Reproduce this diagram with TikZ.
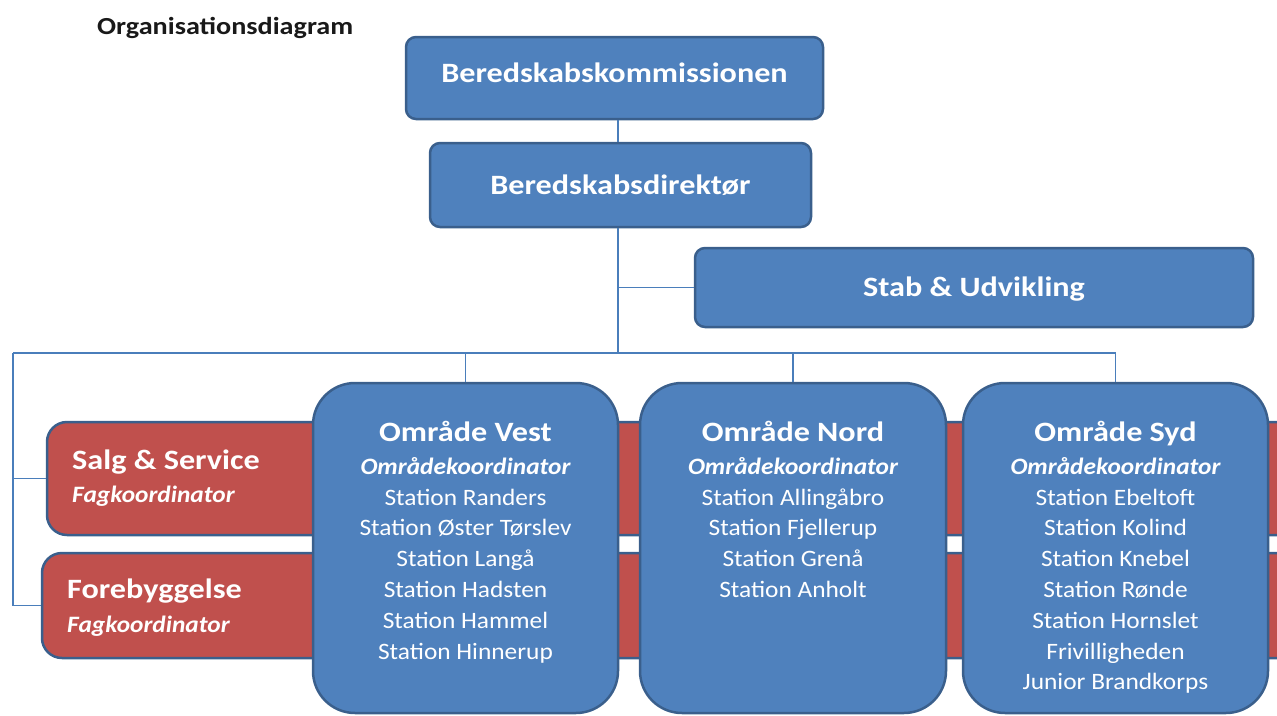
\documentclass[tikz,border=0pt]{standalone}
\usepackage{fontspec}
\setmainfont{Carlito}[FakeStretch=1.08,
  BoldFeatures={FakeStretch=1.15},
  BoldItalicFeatures={FakeStretch=1.08}]
\usetikzlibrary{positioning}
\definecolor{boxblue}{HTML}{4F81BD}
\definecolor{boxred}{HTML}{C0504D}
\definecolor{edgeblue}{HTML}{3A5F8C}
\definecolor{linkblue}{HTML}{4A7EBB}

\tikzset{
  unit/.style={draw=edgeblue, line width=2.5pt, fill=boxblue, rounded corners=10pt,
    text=white, text height=18pt, text depth=0pt, font=\bfseries\fontsize{28}{32}\selectfont},
  fag/.style={unit, fill=boxred, rounded corners=20pt},
  omr/.style={unit, rounded corners=42pt, minimum width=305pt, minimum height=330pt},
  txt/.style={text=white, inner sep=0pt, align=center, font=\fontsize{23.5}{30.8}\selectfont},
  conn/.style={draw=linkblue, line width=1.3pt},
}

\begin{document}
\begin{tikzpicture}[x=1pt,y=-1pt]
  \useasboundingbox (0,0) rectangle (1277,715);

  \node[anchor=west, inner sep=0pt, font=\bfseries\fontsize{24.5}{28}\selectfont, text=black!90] (title) at (97,28) {Organisationsdiagram};

  \node[unit, minimum width=417pt, minimum height=82pt, text depth=10pt] (komm) at (614.5,78) {Beredskabskommissionen};
  \node[unit, minimum width=381pt, minimum height=84pt] (dir) at (620.5,185) {Beredskabsdirektør};
  \node[unit, minimum width=558pt, minimum height=79pt] (stab) at (974,287.5) {Stab \& Udvikling};

  \coordinate (spine) at (618,353);
  \coordinate (busL) at (13,353);

  % red bands go behind the area boxes
  \node[fag, minimum width=1253pt, minimum height=113pt] (salg) at (673.5,478.5) {};
  \node[fag, minimum width=1258pt, minimum height=105pt] (foreb) at (671,605.5) {};

  \node[omr] (vest) at (465.5,548) {};
  \node[omr, minimum width=306pt] (nord) at (793,548) {};
  \node[omr] (syd) at (1115.5,548) {};

  % lines
  \draw[conn] (komm.south -| spine) -- (dir.north -| spine);
  \draw[conn] (dir.south -| spine) -- (spine);
  \draw[conn] (stab.west) -- (stab.west -| spine);
  \draw[conn] (busL) -- (syd.north |- busL) -- (syd.north);
  \draw[conn] (vest.north |- busL) -- (vest.north);
  \draw[conn] (nord.north |- busL) -- (nord.north);
  \draw[conn] (busL) |- (salg.west);
  \draw[conn] (busL) |- (foreb.west);

  \node[txt, anchor=north west, align=left, font=\fontsize{23.5}{33}\selectfont] (salgT) at (72,449.5)
    {{\bfseries\fontsize{28}{33}\selectfont Salg \& Service}\\
     {\bfseries\itshape Fagkoordinator}};
  \node[txt, anchor=north west, align=left] (forebT) at (67,579)
    {{\bfseries\fontsize{28}{33}\selectfont Forebyggelse}\\[3pt]
     {\bfseries\itshape Fagkoordinator}};

  \node[txt, anchor=north] (vestT) at (vest.north |- 0,421)
    {{\bfseries\fontsize{28}{31}\selectfont Område Vest}\\[2pt]
     {\bfseries\itshape Områdekoordinator}\\
     Station Randers\\ Station Øster Tørslev\\ Station Langå\\
     Station Hadsten\\ Station Hammel\\ Station Hinnerup};
  \node[txt, anchor=north] (nordT) at (nord.north |- 0,421)
    {{\bfseries\fontsize{28}{31}\selectfont Område Nord}\\[2pt]
     {\bfseries\itshape Områdekoordinator}\\
     Station Allingåbro\\ Station Fjellerup\\ Station Grenå\\ Station Anholt};
  \node[txt, anchor=north] (sydT) at (syd.north |- 0,421)
    {{\bfseries\fontsize{28}{31}\selectfont Område Syd}\\[2pt]
     {\bfseries\itshape Områdekoordinator}\\
     Station Ebeltoft\\ Station Kolind\\ Station Knebel\\ Station Rønde\\
     Station Hornslet\\ Frivilligheden\\ Junior Brandkorps};
\end{tikzpicture}
\end{document}
